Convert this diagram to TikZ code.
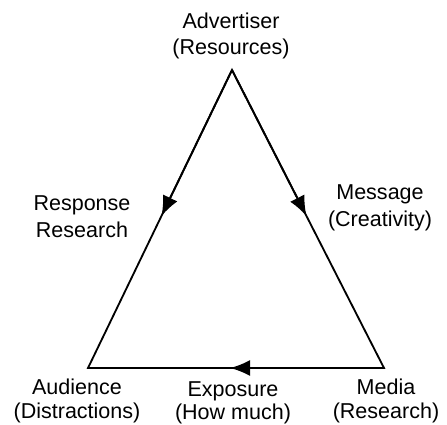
\documentclass[tikz,border=0pt]{standalone}
\usepackage{fontspec}
\setmainfont{Liberation Sans}
\usetikzlibrary{arrows.meta,calc}

\begin{document}
\begin{tikzpicture}[
    x=0.025cm, y=-0.025cm,
    lbl/.style={align=center, inner sep=0pt, font=\fontsize{15.3}{19}\selectfont},
    side/.style={line width=1.3pt, line join=miter},
    arr/.style={side, -{Latex[length=0.5cm, width=0.4cm]}}
]
\useasboundingbox (0,0) rectangle (447,424);

\coordinate (top) at (232,70);
\coordinate (left) at (88,368);
\coordinate (right) at (384,368);

\node[lbl] (adv) at (231,36) {Advertiser\\(Resources)};
\node[lbl] (resp) at (82,217) {Response\\Research};
\node[lbl] (msg) at (380,208) {Message\\(Creativity)};
\node[lbl] (aud) at (77,401) {Audience\\[-2.5pt](Distractions)};
\node[lbl] (expo) at (233,403) {Exposure\\[-2.5pt](How much)};
\node[lbl] (med) at (386,401) {Media\\[-2.5pt](Research)};

% tips half way along each side
\coordinate (lmid) at ($(top)!0.49!(left)$);
\coordinate (rmid) at ($(top)!0.49!(right)$);
\coordinate (bmid) at ($(right)!0.52!(left)$);

\draw[side] (top) -- (left) -- (right) -- cycle;
\draw[arr] (top) -- (lmid);
\draw[arr] (top) -- (rmid);
\draw[arr] (right) -- (bmid);
\end{tikzpicture}
\end{document}
